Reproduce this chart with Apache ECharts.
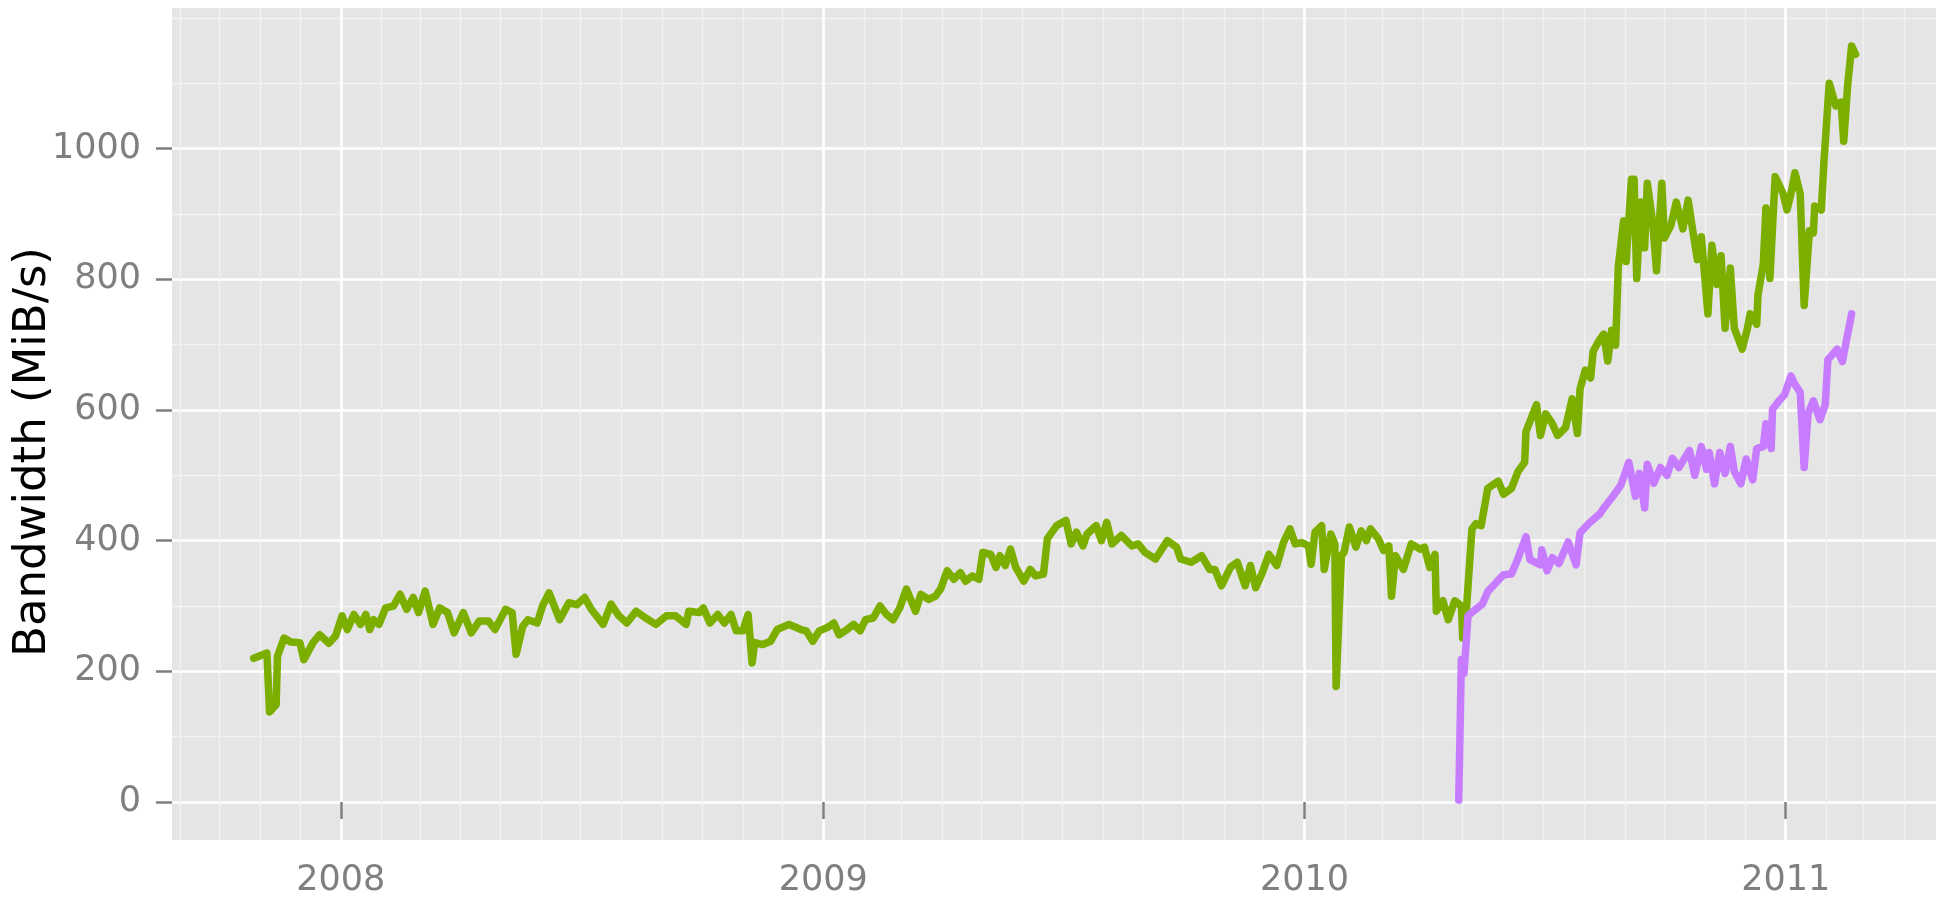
<!DOCTYPE html>
<html>
<head>
<meta charset="utf-8">
<title>Bandwidth</title>
<script src="https://cdn.jsdelivr.net/npm/echarts@6/dist/echarts.min.js"></script>
<style>
  html, body { margin: 0; padding: 0; background: #fff; }
  #chart { width: 1949px; height: 901px; }
</style>
</head>
<body>
<div id="chart"></div>
<script>
// green series (upper line)
const greenDates = [
  '2007-10-27','2007-11-06','2007-11-08','2007-11-13','2007-11-14','2007-11-19','2007-11-24','2007-12-01',
  '2007-12-04','2007-12-11','2007-12-16','2007-12-23','2007-12-28','2008-01-02','2008-01-06','2008-01-11',
  '2008-01-16','2008-01-20','2008-01-23','2008-01-26','2008-01-30','2008-02-04','2008-02-10','2008-02-15',
  '2008-02-20','2008-02-25','2008-02-29','2008-03-05','2008-03-11','2008-03-16','2008-03-22','2008-03-27',
  '2008-04-03','2008-04-09','2008-04-15','2008-04-22','2008-04-27','2008-05-05','2008-05-10','2008-05-13',
  '2008-05-18','2008-05-22','2008-05-29','2008-06-02','2008-06-07','2008-06-15','2008-06-22','2008-06-28',
  '2008-07-04','2008-07-09','2008-07-18','2008-07-24','2008-07-30','2008-08-05','2008-08-12','2008-08-19',
  '2008-08-27','2008-09-04','2008-09-11','2008-09-19','2008-09-21','2008-09-29','2008-10-02','2008-10-07',
  '2008-10-13','2008-10-18','2008-10-23','2008-10-27','2008-11-01','2008-11-05','2008-11-08','2008-11-10',
  '2008-11-16','2008-11-22','2008-11-27','2008-12-06','2008-12-15','2008-12-19','2008-12-24','2008-12-29',
  '2009-01-04','2009-01-09','2009-01-13','2009-01-19','2009-01-24','2009-01-29','2009-02-02','2009-02-08',
  '2009-02-13','2009-02-18','2009-02-23','2009-02-28','2009-03-05','2009-03-12','2009-03-16','2009-03-22',
  '2009-03-27','2009-03-31','2009-04-05','2009-04-10','2009-04-15','2009-04-19','2009-04-24','2009-04-29',
  '2009-05-02','2009-05-08','2009-05-12','2009-05-15','2009-05-19','2009-05-23','2009-05-27','2009-06-02',
  '2009-06-07','2009-06-11','2009-06-17','2009-06-20','2009-06-27','2009-07-04','2009-07-08','2009-07-12',
  '2009-07-17','2009-07-20','2009-07-27','2009-07-31','2009-08-04','2009-08-08','2009-08-15','2009-08-23',
  '2009-08-28','2009-09-02','2009-09-10','2009-09-19','2009-09-26','2009-09-29','2009-10-07','2009-10-15',
  '2009-10-21','2009-10-25','2009-10-30','2009-11-06','2009-11-11','2009-11-17','2009-11-21','2009-11-25',
  '2009-11-30','2009-12-05','2009-12-11','2009-12-16','2009-12-21','2009-12-25','2009-12-30','2010-01-04',
  '2010-01-06','2010-01-09','2010-01-14','2010-01-16','2010-01-19','2010-01-21','2010-01-24','2010-01-25',
  '2010-01-29','2010-01-31','2010-02-04','2010-02-09','2010-02-13','2010-02-17','2010-02-20','2010-02-26',
  '2010-03-02','2010-03-06','2010-03-08','2010-03-11','2010-03-17','2010-03-23','2010-03-30','2010-04-02',
  '2010-04-06','2010-04-10','2010-04-11','2010-04-16','2010-04-20','2010-04-25','2010-04-30','2010-05-01',
  '2010-05-04','2010-05-08','2010-05-11','2010-05-15','2010-05-20','2010-05-28','2010-06-01','2010-06-07',
  '2010-06-12','2010-06-17','2010-06-18','2010-06-26','2010-06-29','2010-07-03','2010-07-08','2010-07-12',
  '2010-07-18','2010-07-23','2010-07-27','2010-07-29','2010-08-02','2010-08-06','2010-08-08','2010-08-13',
  '2010-08-16','2010-08-19','2010-08-22','2010-08-25','2010-08-27','2010-08-31','2010-09-02','2010-09-06',
  '2010-09-08','2010-09-10','2010-09-13','2010-09-16','2010-09-18','2010-09-22','2010-09-25','2010-09-29',
  '2010-10-01','2010-10-06','2010-10-10','2010-10-15','2010-10-19','2010-10-22','2010-10-26','2010-10-29',
  '2010-11-03','2010-11-06','2010-11-10','2010-11-13','2010-11-16','2010-11-20','2010-11-23','2010-11-29',
  '2010-12-03','2010-12-05','2010-12-10','2010-12-11','2010-12-15','2010-12-17','2010-12-20','2010-12-24',
  '2010-12-30','2011-01-02','2011-01-05','2011-01-08','2011-01-12','2011-01-15','2011-01-19','2011-01-22',
  '2011-01-23','2011-01-28','2011-01-30','2011-02-03','2011-02-08','2011-02-12','2011-02-14','2011-02-17',
  '2011-02-20','2011-02-23'
];
const greenValues = [
  220, 228, 138, 149, 223, 251, 245, 244,
  218, 244, 256, 243, 254, 285, 264, 287,
  272, 287, 264, 279, 272, 297, 300, 318,
  295, 313, 290, 323, 272, 297, 290, 259,
  290, 259, 277, 277, 264, 295, 290, 226,
  269, 279, 274, 300, 320, 279, 305, 302,
  313, 295, 272, 303, 285, 274, 292, 282,
  272, 285, 285, 272, 292, 290, 297, 274,
  287, 274, 287, 262, 262, 287, 213, 244,
  241, 246, 264, 272, 264, 262, 246, 262,
  267, 274, 256, 264, 272, 262, 279, 282,
  300, 287, 279, 297, 326, 292, 318, 310,
  315, 326, 354, 341, 351, 338, 346, 341,
  382, 379, 359, 377, 362, 387, 359, 338,
  356, 346, 349, 403, 423, 431, 395, 413,
  392, 410, 423, 400, 428, 395, 408, 392,
  395, 382, 372, 400, 390, 372, 367, 377,
  356, 356, 331, 360, 367, 331, 362, 328,
  351, 379, 362, 397, 418, 395, 397, 392,
  364, 413, 423, 356, 390, 410, 395, 177,
  377, 382, 421, 390, 415, 400, 418, 403,
  385, 392, 315, 377, 356, 395, 387, 390,
  359, 379, 292, 308, 279, 308, 300, 251,
  300, 418, 426, 423, 480, 491, 471, 480,
  506, 520, 567, 608, 561, 594, 579, 561,
  573, 617, 564, 632, 661, 649, 690, 708,
  716, 675, 722, 699, 819, 889, 827, 953,
  953, 801, 918, 848, 947, 889, 813, 947,
  863, 883, 918, 877, 921, 881, 830, 865,
  747, 852, 792, 836, 725, 817, 725, 693,
  725, 747, 731, 776, 823, 909, 801, 957,
  931, 906, 931, 963, 931, 760, 874, 871,
  912, 906, 979, 1100, 1065, 1071, 1011, 1097,
  1157, 1144
];

// purple series (lower line, starts spring 2010)
const purpleDates = [
  '2010-04-28','2010-04-30','2010-05-02','2010-05-05','2010-05-09','2010-05-16','2010-05-20','2010-05-26',
  '2010-06-01','2010-06-07','2010-06-11','2010-06-18','2010-06-21','2010-06-29','2010-06-30','2010-07-04',
  '2010-07-08','2010-07-13','2010-07-20','2010-07-26','2010-07-29','2010-08-05','2010-08-13','2010-08-16',
  '2010-08-23','2010-08-29','2010-09-04','2010-09-09','2010-09-12','2010-09-16','2010-09-18','2010-09-23',
  '2010-09-28','2010-10-03','2010-10-07','2010-10-12','2010-10-20','2010-10-24','2010-10-29','2010-11-02',
  '2010-11-04','2010-11-08','2010-11-12','2010-11-16','2010-11-20','2010-11-23','2010-11-28','2010-12-02',
  '2010-12-07','2010-12-10','2010-12-15','2010-12-17','2010-12-21','2010-12-22','2010-12-27','2010-12-31',
  '2011-01-05','2011-01-08','2011-01-12','2011-01-15','2011-01-18','2011-01-22','2011-01-27','2011-01-31',
  '2011-02-02','2011-02-09','2011-02-13','2011-02-17','2011-02-20'
];
const purpleValues = [
  3, 218, 197, 285, 292, 303, 322, 335,
  348, 349, 368, 406, 371, 363, 386, 354,
  374, 365, 398, 363, 412, 427, 441, 450,
  468, 485, 520, 468, 503, 450, 517, 488,
  512, 500, 526, 512, 538, 500, 544, 509,
  535, 487, 535, 503, 544, 506, 487, 525,
  493, 541, 544, 579, 541, 601, 614, 623,
  652, 639, 627, 512, 595, 614, 585, 608,
  677, 693, 674, 716, 747
];

// axis ticks
const yearTicks = ['2008-01-01', '2009-01-01', '2010-01-01', '2011-01-01'];
const yMajorTicks = [0, 200, 400, 600, 800, 1000];
const yMinorTicks = [100, 300, 500, 700, 900, 1100, 1200];
const xMin = '2007-08-26';
const xMax = '2011-04-25';
const yMin = -58;
const yMax = 1215;

// 'YYYY-MM-DD' -> timestamp (local time)
const ts = s => {
  const p = s.split('-').map(Number);
  return new Date(p[0], p[1] - 1, p[2]).getTime();
};

// month starts for minor vertical grid lines
const monthTicks = [];
for (let y = 2007; y <= 2011; y++) {
  for (let m = 1; m <= 12; m++) {
    const s = y + '-' + String(m).padStart(2, '0') + '-01';
    if (s > xMin && s < xMax) monthTicks.push(ts(s));
  }
}
const yearTickTs = yearTicks.map(ts);

const FONT = 'DejaVu Sans';
const chart = echarts.init(document.getElementById('chart'));

chart.setOption({
  animation: false,
  backgroundColor: '#ffffff',
  grid: {
    left: 172,
    right: 13,
    top: 8,
    bottom: 61,
    show: true,
    backgroundColor: '#E5E5E5',
    borderWidth: 0,
    outerBoundsMode: 'none'
  },
  xAxis: [
    {
      // minor monthly lines
      type: 'value',
      min: ts(xMin),
      max: ts(xMax),
      position: 'bottom',
      axisLine: { show: false },
      axisLabel: { show: false },
      axisTick: { show: false, customValues: monthTicks },
      splitLine: { show: true, customValues: monthTicks, lineStyle: { color: '#F2F2F2', width: 1.3 } }
    },
    {
      type: 'value',
      min: ts(xMin),
      max: ts(xMax),
      position: 'bottom',
      axisLine: { show: false },
      axisTick: {
        show: true,
        customValues: yearTickTs,
        length: 17,
        lineStyle: { color: '#7F7F7F', width: 2.5 }
      },
      axisLabel: {
        customValues: yearTickTs,
        margin: 23,
        color: '#7F7F7F',
        fontSize: 35,
        fontFamily: FONT,
        formatter: v => String(new Date(v).getFullYear())
      },
      splitLine: { show: true, customValues: yearTickTs, lineStyle: { color: '#FFFFFF', width: 2.6 } }
    }
  ],
  yAxis: [
    {
      // minor horizontal lines
      type: 'value',
      min: yMin,
      max: yMax,
      position: 'left',
      axisLine: { show: false },
      axisLabel: { show: false },
      axisTick: { show: false, customValues: yMinorTicks },
      splitLine: { show: true, customValues: yMinorTicks, lineStyle: { color: '#F2F2F2', width: 1.3 } }
    },
    {
      type: 'value',
      min: yMin,
      max: yMax,
      position: 'left',
      name: 'Bandwidth (MiB/s)',
      nameLocation: 'middle',
      nameRotate: 90,
      nameGap: 116,
      nameMoveOverlap: false,
      nameTextStyle: {
        color: '#000000',
        fontSize: 45,
        fontFamily: FONT,
        padding: [0, 56, 0, 0]
      },
      axisLine: { show: false },
      axisTick: {
        show: true,
        customValues: yMajorTicks,
        length: 16,
        lineStyle: { color: '#7F7F7F', width: 2.5 }
      },
      axisLabel: {
        customValues: yMajorTicks,
        margin: 31,
        color: '#7F7F7F',
        fontSize: 35,
        fontFamily: FONT,
        formatter: v => String(v)
      },
      splitLine: { show: true, customValues: yMajorTicks, lineStyle: { color: '#FFFFFF', width: 2.6 } }
    }
  ],
  series: [
    {
      name: 'green',
      type: 'line',
      xAxisIndex: 1,
      yAxisIndex: 1,
      showSymbol: false,
      data: greenDates.map((d, i) => [ts(d), greenValues[i]]),
      lineStyle: { color: '#7CAE00', width: 7.5, cap: 'round', join: 'round' }
    },
    {
      name: 'purple',
      type: 'line',
      xAxisIndex: 1,
      yAxisIndex: 1,
      showSymbol: false,
      data: purpleDates.map((d, i) => [ts(d), purpleValues[i]]),
      lineStyle: { color: '#C77CFF', width: 7.5, cap: 'round', join: 'round' }
    }
  ]
});
</script>
</body>
</html>
